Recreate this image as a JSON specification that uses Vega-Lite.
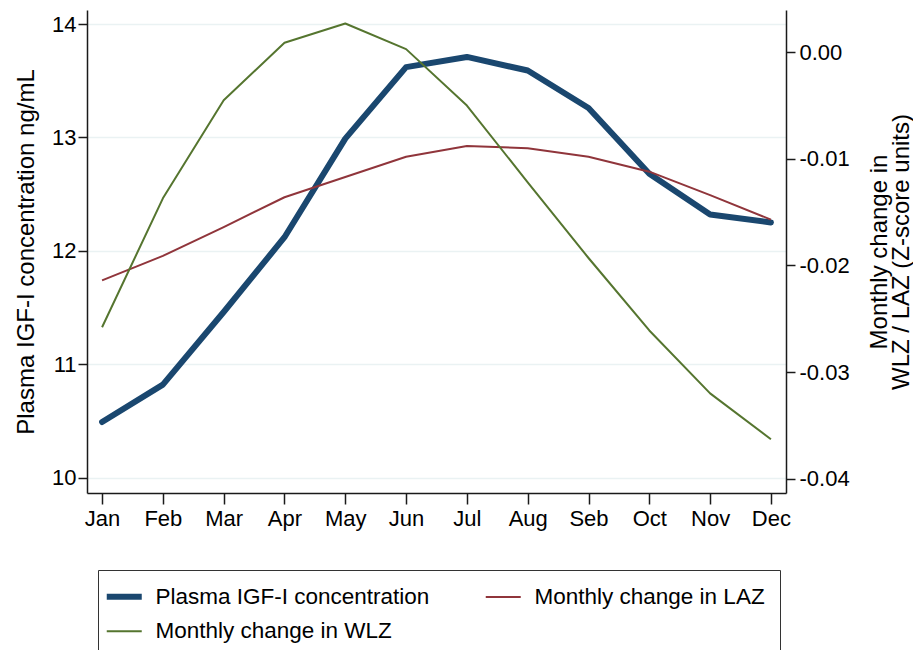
{
  "$schema": "https://vega.github.io/schema/vega-lite/v6.json",
  "width": 699,
  "height": 483,
  "autosize": {"type": "none"},
  "padding": {"left": 87, "top": 10, "right": 127, "bottom": 157},
  "background": "white",
  "config": {
    "font": "Liberation Sans",
    "view": {"stroke": null},
    "axis": {
      "domainColor": "#1a1a1a",
      "domainWidth": 1.5,
      "tickColor": "#1a1a1a",
      "tickWidth": 1.5,
      "labelColor": "#000000",
      "titleColor": "#000000",
      "labelFontSize": 22,
      "titleFontSize": 22,
      "titleFontWeight": "normal"
    }
  },
  "data": {
    "values": [
      {"month": "Jan", "series": "Plasma IGF-I concentration", "value": 10.49},
      {"month": "Feb", "series": "Plasma IGF-I concentration", "value": 10.82},
      {"month": "Mar", "series": "Plasma IGF-I concentration", "value": 11.46},
      {"month": "Apr", "series": "Plasma IGF-I concentration", "value": 12.12},
      {"month": "May", "series": "Plasma IGF-I concentration", "value": 12.99},
      {"month": "Jun", "series": "Plasma IGF-I concentration", "value": 13.62},
      {"month": "Jul", "series": "Plasma IGF-I concentration", "value": 13.71},
      {"month": "Aug", "series": "Plasma IGF-I concentration", "value": 13.59},
      {"month": "Seb", "series": "Plasma IGF-I concentration", "value": 13.26},
      {"month": "Oct", "series": "Plasma IGF-I concentration", "value": 12.68},
      {"month": "Nov", "series": "Plasma IGF-I concentration", "value": 12.32},
      {"month": "Dec", "series": "Plasma IGF-I concentration", "value": 12.25},
      {"month": "Jan", "series": "Monthly change in LAZ", "value": -0.0214},
      {"month": "Feb", "series": "Monthly change in LAZ", "value": -0.0191},
      {"month": "Mar", "series": "Monthly change in LAZ", "value": -0.0164},
      {"month": "Apr", "series": "Monthly change in LAZ", "value": -0.0136},
      {"month": "May", "series": "Monthly change in LAZ", "value": -0.0117},
      {"month": "Jun", "series": "Monthly change in LAZ", "value": -0.0098},
      {"month": "Jul", "series": "Monthly change in LAZ", "value": -0.0088},
      {"month": "Aug", "series": "Monthly change in LAZ", "value": -0.0090},
      {"month": "Seb", "series": "Monthly change in LAZ", "value": -0.0098},
      {"month": "Oct", "series": "Monthly change in LAZ", "value": -0.0112},
      {"month": "Nov", "series": "Monthly change in LAZ", "value": -0.0134},
      {"month": "Dec", "series": "Monthly change in LAZ", "value": -0.0157},
      {"month": "Jan", "series": "Monthly change in WLZ", "value": -0.0258},
      {"month": "Feb", "series": "Monthly change in WLZ", "value": -0.0137},
      {"month": "Mar", "series": "Monthly change in WLZ", "value": -0.0045},
      {"month": "Apr", "series": "Monthly change in WLZ", "value": 0.0009},
      {"month": "May", "series": "Monthly change in WLZ", "value": 0.0027},
      {"month": "Jun", "series": "Monthly change in WLZ", "value": 0.0003},
      {"month": "Jul", "series": "Monthly change in WLZ", "value": -0.0050},
      {"month": "Aug", "series": "Monthly change in WLZ", "value": -0.0122},
      {"month": "Seb", "series": "Monthly change in WLZ", "value": -0.0193},
      {"month": "Oct", "series": "Monthly change in WLZ", "value": -0.0261},
      {"month": "Nov", "series": "Monthly change in WLZ", "value": -0.0320},
      {"month": "Dec", "series": "Monthly change in WLZ", "value": -0.0363}
    ]
  },
  "encoding": {
    "x": {
      "field": "month",
      "type": "ordinal",
      "scale": {
        "type": "point",
        "padding": 0.248,
        "domain": ["Jan", "Feb", "Mar", "Apr", "May", "Jun", "Jul", "Aug", "Seb", "Oct", "Nov", "Dec"]
      },
      "axis": {"title": null, "labelAngle": 0, "tickSize": 11, "labelPadding": 4, "grid": false}
    },
    "color": {
      "field": "series",
      "type": "nominal",
      "scale": {
        "domain": ["Plasma IGF-I concentration", "Monthly change in LAZ", "Monthly change in WLZ"],
        "range": ["#1a476f", "#90353b", "#55752f"]
      },
      "legend": {
        "orient": "none",
        "legendX": 11,
        "legendY": 560,
        "direction": "horizontal",
        "columns": 2,
        "columnPadding": 51,
        "rowPadding": 11,
        "symbolType": "stroke",
        "symbolSize": 1225,
        "symbolStrokeWidth": 2,
        "labelOffset": 20,
        "labelFontSize": 22.5,
        "labelColor": "#000000",
        "labelLimit": 400,
        "padding": 15,
        "strokeColor": "#333333",
        "title": null,
        "encode": {
          "symbols": {
            "update": {
              "strokeWidth": {"signal": "datum.value === 'Plasma IGF-I concentration' ? 6 : 2"}
            }
          }
        }
      }
    }
  },
  "layer": [
    {
      "transform": [{"filter": "datum.series === 'Plasma IGF-I concentration'"}],
      "mark": {"type": "line", "strokeWidth": 6, "strokeJoin": "round", "strokeCap": "round"},
      "encoding": {
        "y": {
          "field": "value",
          "type": "quantitative",
          "scale": {"domain": [9.864, 14.124], "nice": false, "zero": false},
          "axis": {
            "orient": "left",
            "title": "Plasma IGF-I  concentration ng/mL",
            "titleFontSize": 24,
            "values": [10, 11, 12, 13, 14],
            "format": "d",
            "grid": true,
            "gridColor": "#eaf2f3",
            "gridWidth": 1.5,
            "tickSize": 9,
            "labelPadding": 2,
            "titlePadding": 13
          }
        }
      }
    },
    {
      "transform": [{"filter": "datum.series !== 'Plasma IGF-I concentration'"}],
      "mark": {"type": "line", "strokeWidth": 2, "strokeJoin": "round"},
      "encoding": {
        "y": {
          "field": "value",
          "type": "quantitative",
          "scale": {"domain": [-0.04135, 0.00397], "nice": false, "zero": false},
          "axis": {
            "orient": "right",
            "title": ["Monthly change in", "WLZ / LAZ (Z-score units)"],
            "titleFontSize": 24,
            "titleAngle": 270,
            "titleBaseline": "top",
            "titleLineHeight": 22,
            "values": [0, -0.01, -0.02, -0.03, -0.04],
            "labelExpr": "datum.value < 0 ? '-' + format(-datum.value, '.2f') : format(datum.value, '.2f')",
            "grid": false,
            "tickSize": 9,
            "labelPadding": 4,
            "titlePadding": -4
          }
        }
      }
    }
  ],
  "resolve": {"scale": {"y": "independent"}}
}
